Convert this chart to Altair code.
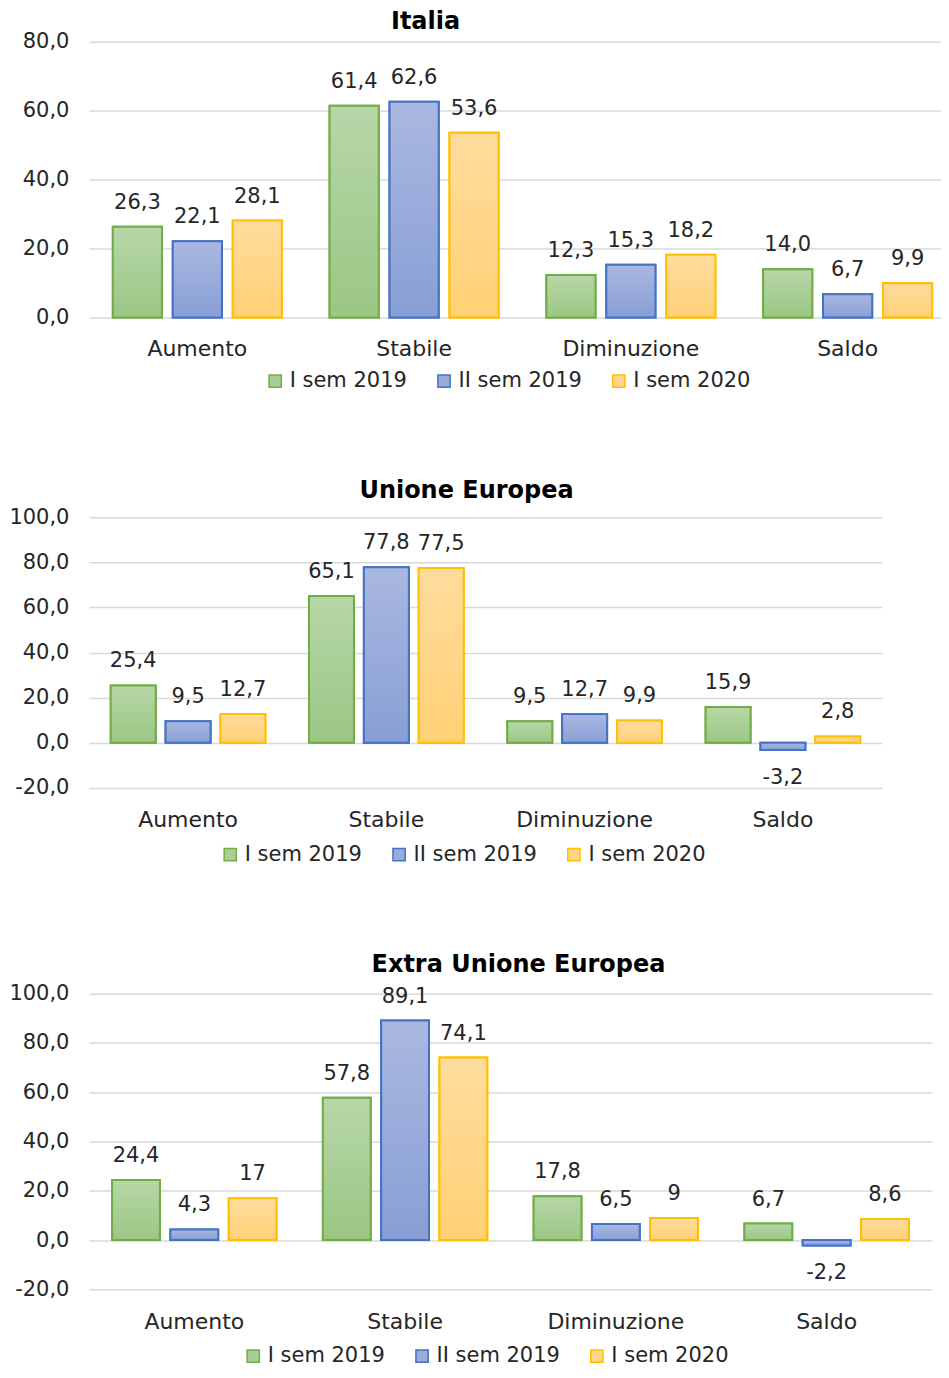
import altair as alt
import pandas as pd

cats = ["Aumento", "Stabile", "Diminuzione", "Saldo"]
series = ["I sem 2019", "II sem 2019", "I sem 2020"]

italia_i2019 = [26.3, 61.4, 12.3, 14.0]
italia_ii2019 = [22.1, 62.6, 15.3, 6.7]
italia_i2020 = [28.1, 53.6, 18.2, 9.9]

ue_i2019 = [25.4, 65.1, 9.5, 15.9]
ue_ii2019 = [9.5, 77.8, 12.7, -3.2]
ue_i2020 = [12.7, 77.5, 9.9, 2.8]

extra_i2019 = [24.4, 57.8, 17.8, 6.7]
extra_ii2019 = [4.3, 89.1, 6.5, -2.2]
extra_i2020 = [17, 74.1, 9, 8.6]

strokes = ["#70AD47", "#4472C4", "#FFC000"]
mids = ["#A8CE95", "#98ABDA", "#FFD688"]
grads = [("#B6D7A8", "#9CC684"), ("#AAB8E0", "#889FD5"), ("#FFDC9E", "#FFD176")]

FONT = "DejaVu Sans"
TXT = "#262626"


def fmt(v):
    if isinstance(v, int):
        return str(v)
    return f"{v:.1f}".replace(".", ",")


def make_df(lists):
    rows = []
    for s, vals in zip(series, lists):
        for c, v in zip(cats, vals):
            rows.append({"cat": c, "series": s, "value": float(v), "label": fmt(v)})
    return pd.DataFrame(rows)


def panel(title, lists, ymin, ymax, ticks, width, height, title_dx, title_off,
          leg_x, leg_y, cat_pad, pad_outer=0.11, align=0.5):
    df = make_df(lists)
    base = alt.Chart(df)
    xscale = alt.Scale(domain=cats, paddingInner=0.22, paddingOuter=pad_outer, align=align)
    x = alt.X("cat:N", sort=cats, scale=xscale,
              axis=alt.Axis(title=None, labelAngle=0, domain=False, ticks=False,
                            labelPadding=cat_pad, labelFontSize=22, labelColor=TXT,
                            labelFont=FONT, grid=False))
    xo = alt.XOffset("series:N", sort=series,
                     scale=alt.Scale(domain=series, paddingInner=0.18, paddingOuter=0))
    y = alt.Y("value:Q",
              scale=alt.Scale(domain=[ymin, ymax], nice=False, zero=True),
              axis=alt.Axis(title=None, values=ticks, grid=True, domain=False, ticks=False,
                            labelPadding=20, labelFontSize=21, labelColor=TXT, labelFont=FONT,
                            gridColor="#D9D9D9", gridWidth=1.5,
                            labelExpr="replace(replace(format(datum.value, '.1f'), '.', ','), '\u2212', '-')"))
    leg = alt.Legend(title=None, orient="none", legendX=leg_x, legendY=leg_y,
                     direction="horizontal", symbolType="square", symbolSize=150,
                     symbolStrokeWidth=1.5, labelFontSize=21, labelFont=FONT,
                     labelColor=TXT, columnPadding=26, labelOffset=4)
    under = base.mark_bar(strokeWidth=2).encode(
        x=x, xOffset=xo, y=y,
        fill=alt.Fill("series:N", scale=alt.Scale(domain=series, range=mids), legend=leg),
        stroke=alt.Stroke("series:N", scale=alt.Scale(domain=series, range=strokes), legend=leg),
    )
    layers = [under]
    for s, st, (g1, g2) in zip(series, strokes, grads):
        grad = {"gradient": "linear", "x1": 0, "y1": 0, "x2": 0, "y2": 1,
                "stops": [{"offset": 0, "color": g1}, {"offset": 1, "color": g2}]}
        layers.append(
            base.transform_filter(alt.datum.series == s)
            .mark_bar(fill=grad, stroke=st, strokeWidth=2)
            .encode(x=x, xOffset=xo, y=y)
        )
    pos = base.transform_filter("datum.value >= 0").mark_text(
        dy=-24, fontSize=21, font=FONT, color=TXT, baseline="middle"
    ).encode(x=x, xOffset=xo, y=y, text="label:N")
    neg = base.transform_filter("datum.value < 0").mark_text(
        dy=28, fontSize=21, font=FONT, color=TXT, baseline="middle"
    ).encode(x=x, xOffset=xo, y=y, text="label:N")
    layers += [pos, neg]
    return alt.layer(*layers).properties(
        width=width, height=height,
        title=alt.TitleParams(title, fontSize=24, fontWeight="bold", font=FONT,
                              color="#000000", anchor="middle", dx=title_dx, offset=title_off),
    )


def indep(c):
    return c.resolve_scale(
        fill="independent", stroke="independent", x="independent", y="independent",
        xOffset="independent"
    ).resolve_legend(fill="independent", stroke="independent")


p1 = panel("Italia", [italia_i2019, italia_ii2019, italia_i2020], 0, 80,
           [0, 20, 40, 60, 80], 853, 276, -89.5, -3.5, 176, 329, 21,
           pad_outer=0.0755, align=0.73)
p2 = panel("Unione Europea", [ue_i2019, ue_ii2019, ue_i2020], -20, 100,
           [-20, 0, 20, 40, 60, 80, 100], 794, 271, -19, 3.5, 131, 327, 22)
p3 = panel("Extra Unione Europea", [extra_i2019, extra_ii2019, extra_i2020], -20, 100,
           [-20, 0, 20, 40, 60, 80, 100], 844, 296, 8, 6, 154, 352, 22)

top = indep(alt.vconcat(p1, p2, spacing=87))
chart = indep(alt.vconcat(top, p3, spacing=88)).configure_view(
    stroke=None
).properties(padding={"left": 0, "top": 1, "right": 0, "bottom": 0})

chart.save("out.html", embed_options={"renderer": "svg", "actions": False})
